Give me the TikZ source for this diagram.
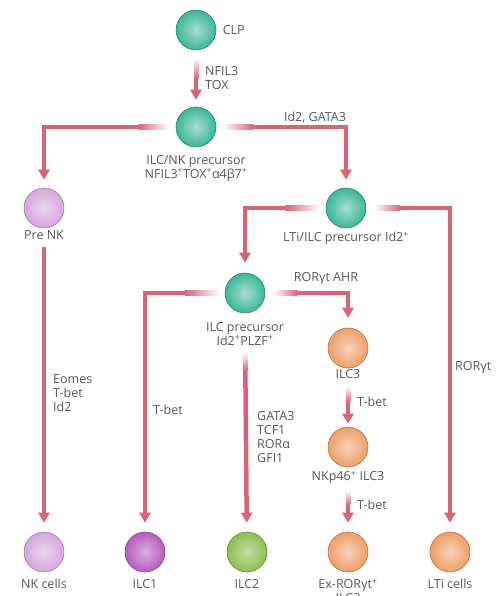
\documentclass[tikz,border=0pt]{standalone}
\usepackage{fontspec}
\setmainfont{Open Sans}
\usetikzlibrary{shapes, arrows.meta, positioning, calc}

\definecolor{linkred}{RGB}{216,100,120}
\definecolor{txtgray}{RGB}{88,88,88}
\definecolor{tealc}{RGB}{60,182,150}
\definecolor{lilacc}{RGB}{212,166,220}
\definecolor{magentac}{RGB}{182,92,190}
\definecolor{greenc}{RGB}{140,190,78}
\definecolor{orangec}{RGB}{238,158,104}

\begin{document}
\begin{tikzpicture}[x=1pt, y=-1pt, >={Triangle[length=10pt,width=11pt]}, font=\fontsize{12.5}{14}\selectfont, text=txtgray]

\tikzstyle{cell} = [circle, minimum size=40pt, inner sep=0pt, line width=0.6pt]
\tikzstyle{teal cell} = [cell, draw=tealc!75!black, inner color=tealc!45!white, outer color=tealc]
\tikzstyle{lilac cell} = [cell, draw=lilacc!75!black, inner color=lilacc!45!white, outer color=lilacc]
\tikzstyle{magenta cell} = [cell, draw=magentac!75!black, inner color=magentac!50!white, outer color=magentac]
\tikzstyle{green cell} = [cell, draw=greenc!75!black, inner color=greenc!50!white, outer color=greenc]
\tikzstyle{orange cell} = [cell, draw=orangec!75!black, inner color=orangec!45!white, outer color=orangec]
\tikzstyle{lbl} = [align=center, inner sep=1pt]
\tikzstyle{factor} = [align=left, inner sep=1pt, anchor=west]
\tikzstyle{link} = [draw=linkred, line width=4.5pt]

\useasboundingbox (0,0) rectangle (499,596);

%Cells and their names
\node[teal cell] (clp) at (196,30) {};
\node[right=3pt of clp] (clplbl) {CLP};
\node[teal cell] (ilcnk) at (196,127) {};
\node[lbl, below=6.5pt of ilcnk] (ilcnklbl) {ILC/NK precursor\\NFIL3\textsuperscript{+}TOX\textsuperscript{+}α4β7\textsuperscript{+}};
\node[lilac cell] (prenk) at (44,208) {};
\node[lbl, below=1.5pt of prenk] (prenklbl) {Pre NK};
\node[teal cell] (ltiilc) at (346,208) {};
\node[lbl, below=2.5pt of ltiilc] (ltiilclbl) {LTi/ILC precursor Id2\textsuperscript{+}};
\node[teal cell] (ilcp) at (245,293) {};
\node[lbl, below=7.5pt of ilcp] (ilcplbl) {ILC precursor\\Id2\textsuperscript{+}PLZF\textsuperscript{+}};
\node[orange cell] (ilc3) at (348,348) {};
\node[lbl, below=0pt of ilc3] (ilc3lbl) {ILC3};
\node[orange cell] (nkp46) at (348,447) {};
\node[lbl, below=2.5pt of nkp46] (nkp46lbl) {NKp46\textsuperscript{+} ILC3};

%Final cells
\node[lilac cell] (nk) at (44,552) {};
\node[lbl, below=5.5pt of nk] (nklbl) {NK cells};
\node[magenta cell] (ilc1) at (145,552) {};
\node[lbl, below=5.5pt of ilc1] (ilc1lbl) {ILC1};
\node[green cell] (ilc2) at (247,552) {};
\node[lbl, below=5.5pt of ilc2] (ilc2lbl) {ILC2};
\node[orange cell] (exror) at (348,552) {};
\node[lbl, below=5.5pt of exror] (exrorlbl) {Ex-RORγt\textsuperscript{+}\\ILC3};
\node[orange cell] (lti) at (450,552) {};
\node[lbl, below=5.5pt of lti] (ltilbl) {LTi cells};

%Factors
\node[factor] (f1) at (204,78) {NFIL3\\TOX};
\node[lbl] (f2) at (315,118) {Id2, GATA3};
\node[lbl] (f3) at (326,278) {RORγt AHR};
\node[factor] (f4) at (52,393) {Eomes\\T-bet\\Id2};
\node[factor] (f5) at (152,410) {T-bet};
\node[factor] (f6) at (256,437) {GATA3\\TCF1\\RORα\\GFI1};
\node[factor] (f7) at (356,402) {T-bet};
\node[factor] (f8) at (356,505) {T-bet};
\node[factor] (f9) at (454,367) {RORγt};

%Connecting cells
\draw[link, ->, shorten <=8pt, shorten >=7pt] (clp) -- (ilcnk);
\draw[link, ->, shorten <=7pt, shorten >=8pt] (ilcnk) -| (prenk);
\draw[link, ->, shorten <=7pt, shorten >=8pt] (ilcnk) -| (ltiilc);
\draw[link, ->, shorten <=6pt, shorten >=10pt] (ltiilc) -| (ilcp);
\draw[link, ->, shorten <=8pt, shorten >=9pt] (ltiilc) -| (lti);
\draw[link, ->, shorten <=5pt, shorten >=9pt] (ilcp) -| (ilc1);
\draw[link, ->, shorten <=8pt, shorten >=10pt] (ilcp) -| (ilc3);
\draw[link, ->, shorten <=6pt, shorten >=9pt] (ilcplbl) -- (ilc2);
\draw[link, ->, shorten <=6pt, shorten >=9pt] (prenklbl) -- (nk);
\draw[link, ->, shorten <=6pt, shorten >=3pt] (ilc3lbl) -- (nkp46);
\draw[link, ->, shorten <=6pt, shorten >=9pt] (nkp46lbl) -- (exror);

%Faded starts
\shade[top color=white, bottom color=linkred] ($(clp.south)+(-2.25,8)$) rectangle ($(clp.south)+(2.25,28)$);
\shade[left color=linkred, right color=white] ($(ilcnk.west)+(-37,-2.25)$) rectangle ($(ilcnk.west)+(-7,2.25)$);
\shade[left color=white, right color=linkred] ($(ilcnk.east)+(7,-2.25)$) rectangle ($(ilcnk.east)+(37,2.25)$);
\shade[left color=linkred, right color=white] ($(ltiilc.west)+(-40,-2.25)$) rectangle ($(ltiilc.west)+(-6,2.25)$);
\shade[left color=white, right color=linkred] ($(ltiilc.east)+(8,-2.25)$) rectangle ($(ltiilc.east)+(34,2.25)$);
\shade[left color=linkred, right color=white] ($(ilcp.west)+(-40,-2.25)$) rectangle ($(ilcp.west)+(-5,2.25)$);
\shade[left color=white, right color=linkred] ($(ilcp.east)+(8,-2.25)$) rectangle ($(ilcp.east)+(32,2.25)$);
\shade[top color=white, bottom color=linkred] ($(ilcplbl.south)+(-2.25,6)$) rectangle ($(ilcplbl.south)+(2.25,24)$);
\shade[top color=white, bottom color=linkred] ($(ilc3lbl.south)+(-2.25,6)$) rectangle ($(ilc3lbl.south)+(2.25,22)$);
\shade[top color=white, bottom color=linkred] ($(nkp46lbl.south)+(-2.25,6)$) rectangle ($(nkp46lbl.south)+(2.25,20)$);
\end{tikzpicture}
\end{document}
